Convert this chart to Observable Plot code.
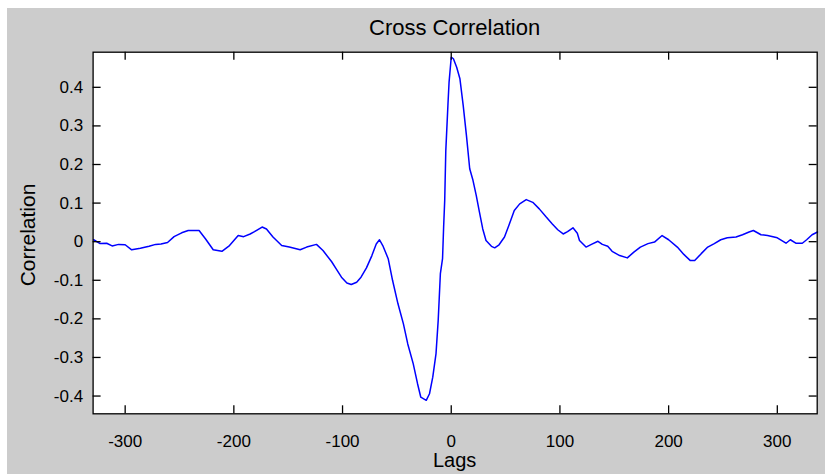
<!DOCTYPE html>
<html>
<head>
<meta charset="utf-8">
<script src="https://cdn.jsdelivr.net/npm/d3@7"></script>
<script src="https://cdn.jsdelivr.net/npm/@observablehq/plot@0.6"></script>
<style>
  html, body { margin: 0; padding: 0; background: #ffffff; }
  #fig { position: relative; width: 825px; height: 474px; overflow: hidden;
         font-family: "Liberation Sans", Arial, sans-serif; color: #000; }
  #bg { position: absolute; left: 7px; top: 8px; right: 0; bottom: 0; background: #cccccc; }
  #chart { position: absolute; left: 0; top: 0; }
  .lbl { position: absolute; white-space: nowrap; line-height: 1; color: #000; }
  #title { left: 92.6px; width: 724px; top: 17px; text-align: center; font-size: 22px; }
  #xlabel { left: 92.6px; width: 724px; top: 450px; text-align: center; font-size: 20px; }
  #ylabel { left: 27px; top: 235px; font-size: 21px; transform: translate(-50%, -50%) rotate(-90deg); }
</style>
</head>
<body>
<div id="fig">
  <div id="bg"></div>
  <div id="chart"></div>
  <div class="lbl" id="title">Cross Correlation</div>
  <div class="lbl" id="xlabel">Lags</div>
  <div class="lbl" id="ylabel">Correlation</div>
</div>
<script>
const lags = [
  -329, -323, -317, -312, -306, -300, -294, -286, -278, -272, -267, -261, -255, -248, -242, -232,
  -226, -219, -211, -204, -196, -191, -185, -181, -174, -170, -164, -156, -149, -139, -133, -124,
  -118, -110, -106, -101, -96, -92, -87, -83, -78, -73, -69, -66, -63, -58, -54, -49, -44, -40,
  -35, -31, -28, -23, -20, -17, -14, -12, -11, -10, -8, -7, -6, -5, -3, -2, 0, 2, 5, 8, 11, 14,
  17, 20, 23, 26, 29, 32, 37, 40, 44, 49, 53, 58, 63, 69, 75, 81, 87, 93, 98, 103, 107, 112, 116,
  118, 124, 129, 135, 139, 144, 148, 155, 162, 168, 174, 181, 187, 194, 200, 208, 214, 220, 224,
  230, 236, 242, 248, 254, 262, 268, 274, 278, 285, 291, 300, 308, 312, 317, 323, 327, 332, 337
];
const correlation = [
  0.005, -0.005, -0.004, -0.011, -0.007, -0.008, -0.021, -0.017, -0.012, -0.007, -0.006, -0.002, 0.013, 0.023, 0.029, 0.029,
  0.007, -0.021, -0.025, -0.010, 0.016, 0.013, 0.020, 0.026, 0.038, 0.033, 0.012, -0.010, -0.014, -0.021, -0.014, -0.007,
  -0.023, -0.052, -0.070, -0.092, -0.107, -0.111, -0.105, -0.092, -0.068, -0.036, -0.006, 0.005, -0.010, -0.044, -0.100, -0.161, -0.213, -0.265,
  -0.316, -0.368, -0.403, -0.411, -0.394, -0.351, -0.290, -0.204, -0.144, -0.083, -0.044, 0.038, 0.107, 0.236, 0.357, 0.413, 0.478, 0.474, 0.452, 0.422, 0.353, 0.275,
  0.189, 0.159, 0.120, 0.076, 0.033, 0.003, -0.012, -0.016, -0.008, 0.012, 0.042, 0.081, 0.098, 0.109, 0.102, 0.085, 0.065, 0.046, 0.031, 0.020, 0.026, 0.036, 0.022,
  0.003, -0.014, -0.007, 0.001, -0.007, -0.012, -0.025, -0.036, -0.042, -0.027, -0.014, -0.005, -0.001, 0.016, 0.005, -0.014, -0.033, -0.049, -0.049,
  -0.031, -0.014, -0.005, 0.005, 0.010, 0.012, 0.018, 0.025, 0.029, 0.018, 0.016, 0.010, -0.004, 0.005, -0.004, -0.004, 0.005, 0.018, 0.025
];
const xTicks = [-300, -200, -100, 0, 100, 200, 300];
const yTicks = [-0.4, -0.3, -0.2, -0.1, 0, 0.1, 0.2, 0.3, 0.4];
const xDomain = [-329.5, 336.7];
const yDomain = [-0.446, 0.491];

const rows = lags.map((lag, i) => ({lag, value: correlation[i]}));
const xTickRows = xTicks.map(v => ({v}));
const yTickRows = yTicks.map(v => ({v}));
const fmtY = d => String(Math.round(d * 10) / 10);
const fmtX = d => String(d);

const W = 825, H = 474, ML = 92.6, MR = 8.3, MT = 51.7, MB = 60.7;
const plotW = W - ML - MR, plotH = H - MT - MB;
const TICK = 8;

const chart = Plot.plot({
  width: W,
  height: H,
  marginLeft: ML,
  marginRight: MR,
  marginTop: MT,
  marginBottom: MB,
  style: {background: "transparent", fontFamily: "'Liberation Sans', Arial, sans-serif", fontSize: "17px", color: "#000"},
  x: {domain: xDomain},
  y: {domain: yDomain},
  marks: [
    Plot.frame({fill: "white"}),
    Plot.lineY(rows, {x: "lag", y: "value", stroke: "#0000ff", strokeWidth: 1.5}),
    // inward tick marks on all four sides
    Plot.ruleX(xTickRows, {x: "v", insetTop: plotH - TICK, stroke: "#000", strokeWidth: 1.3}),
    Plot.ruleX(xTickRows, {x: "v", insetBottom: plotH - TICK, stroke: "#000", strokeWidth: 1.3}),
    Plot.ruleY(yTickRows, {y: "v", insetRight: plotW - TICK, stroke: "#000", strokeWidth: 1.3}),
    Plot.ruleY(yTickRows, {y: "v", insetLeft: plotW - TICK, stroke: "#000", strokeWidth: 1.3}),
    Plot.frame({stroke: "#000", strokeWidth: 1.3}),
    Plot.axisX({ticks: xTicks, anchor: "bottom", tickSize: 0, tickPadding: 21, tickFormat: fmtX, label: null}),
    Plot.axisY({ticks: yTicks, anchor: "left", tickSize: 0, tickPadding: 10, tickFormat: fmtY, label: null})
  ]
});
document.getElementById("chart").appendChild(chart);
</script>
</body>
</html>
